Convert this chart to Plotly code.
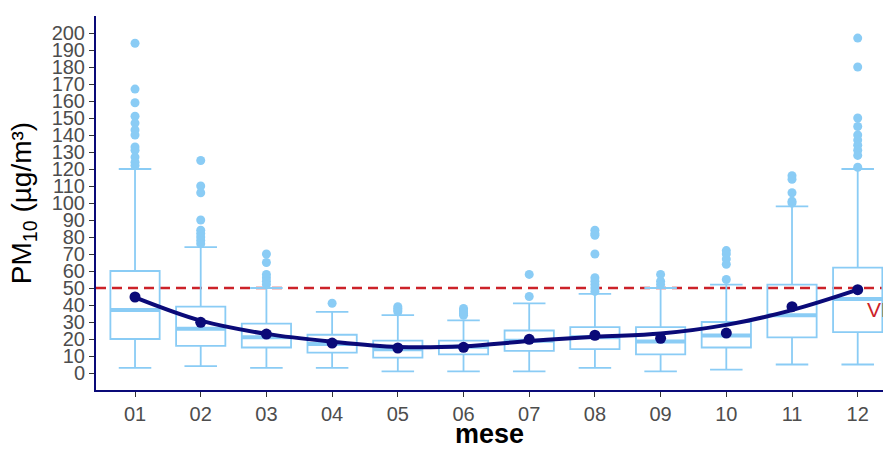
import plotly.graph_objects as go

months = ["01", "02", "03", "04", "05", "06", "07", "08", "09", "10", "11", "12"]
q1 = [20, 16, 15, 12, 9, 11, 13, 14, 11, 15, 21, 24]
median = [37, 26, 21, 17, 14, 15.5, 19, 21, 18.5, 22, 34, 43.5]
q3 = [60, 39, 29, 22.5, 19, 19, 25, 27, 27, 30, 52, 62]
lowerfence = [3, 4, 3, 3, 1, 1, 1, 3, 1, 2, 5, 5]
upperfence = [120, 74, 50, 36, 34, 31, 41, 46.5, 50, 52, 98, 120]
means = [44.7, 29.8, 22.9, 17.6, 14.7, 15.1, 19.8, 22.2, 20.4, 23.5, 39, 49]
smooth = [44.5, 30.8, 23, 18.4, 15.3, 15.7, 18.8, 21.3, 23.2, 28.3, 37, 49]
outliers = {
    "01": [194, 167, 159, 151, 147, 143, 140, 133, 131, 127, 124, 122],
    "02": [125, 110, 106, 90, 84, 82, 80, 78, 76],
    "03": [70, 65, 58, 56, 54, 52],
    "04": [41],
    "05": [39, 38, 37, 36],
    "06": [38, 37, 36, 35, 34],
    "07": [58, 45],
    "08": [84, 82, 81, 70, 56, 54, 52, 50, 48],
    "09": [58, 54, 52],
    "10": [72, 70, 67, 64, 55],
    "11": [116, 114, 106, 101, 100],
    "12": [197, 180, 150, 145, 140, 137, 134, 131, 128, 121],
}
limit_value = 50
limit_label = "VL"
y_ticks = list(range(0, 201, 10))

BOX_C = "#8ACCF5"
NAVY = "#0A0A78"
RED = "#CC2229"
FONT = "Liberation Sans, Arial, sans-serif"
BW = 0.75

xs = list(range(1, len(months) + 1))

fig = go.Figure()

fig.add_trace(go.Box(
    x=xs, q1=q1, median=median, q3=q3,
    lowerfence=lowerfence, upperfence=upperfence,
    width=BW, whiskerwidth=0.66, boxpoints=False,
    fillcolor="rgba(255,255,255,0)",
    line=dict(color=BOX_C, width=1.8),
    showlegend=False, hoverinfo="skip",
))

# thick median bars
mx, my = [], []
for x, m in zip(xs, median):
    mx += [x - BW / 2, x + BW / 2, None]
    my += [m, m, None]
fig.add_trace(go.Scatter(x=mx, y=my, mode="lines",
                         line=dict(color=BOX_C, width=4),
                         showlegend=False, hoverinfo="skip"))

# outliers
ox, oy = [], []
for i, m in enumerate(months):
    for v in outliers[m]:
        ox.append(xs[i])
        oy.append(v)
fig.add_trace(go.Scatter(x=ox, y=oy, mode="markers",
                         marker=dict(color=BOX_C, size=9),
                         showlegend=False, hoverinfo="skip"))

# smoothed curve
fig.add_trace(go.Scatter(x=xs, y=smooth, mode="lines",
                         line=dict(color=NAVY, width=4, shape="spline", smoothing=1.0),
                         showlegend=False, hoverinfo="skip"))
# means
fig.add_trace(go.Scatter(x=xs, y=means, mode="markers",
                         marker=dict(color=NAVY, size=11),
                         showlegend=False, hoverinfo="skip"))

fig.add_shape(type="line", xref="paper", x0=0, x1=1, yref="y",
              y0=limit_value, y1=limit_value, layer="below",
              line=dict(color=RED, width=2.5, dash="10px,6px"))

fig.add_annotation(x=12.11, y=37.5, xref="x", yref="y", text=limit_label,
                   showarrow=False, xanchor="left", yanchor="middle",
                   font=dict(color=RED, size=21, family=FONT))

fig.update_layout(
    width=883, height=449,
    margin=dict(l=96, r=0, t=16, b=59),
    paper_bgcolor="white", plot_bgcolor="white",
    font=dict(family=FONT),
    xaxis=dict(
        range=[0.406, 12.385], tickvals=xs, ticktext=months,
        showline=True, linecolor=NAVY, linewidth=2,
        ticks="outside", ticklen=5, tickwidth=1, tickcolor="#333333",
        tickfont=dict(size=20, color="#4D4D4D", family=FONT),
        showgrid=False, zeroline=False,
        title=dict(text="<b>mese</b>", font=dict(size=27, color="black", family=FONT), standoff=6),
    ),
    yaxis=dict(
        range=[-10, 210], tickvals=y_ticks,
        showline=True, linecolor=NAVY, linewidth=2,
        ticks="outside", ticklen=5, tickwidth=1, tickcolor="#333333",
        tickfont=dict(size=20, color="#4D4D4D", family=FONT),
        showgrid=False, zeroline=False,
        title=dict(text="PM<sub>10</sub> (µg/m³)", font=dict(size=28, color="black", family=FONT), standoff=12),
    ),
)

fig.write_html("out.html", config={"displayModeBar": False},
               post_script="document.body.style.margin='0';document.body.style.overflow='hidden';")
